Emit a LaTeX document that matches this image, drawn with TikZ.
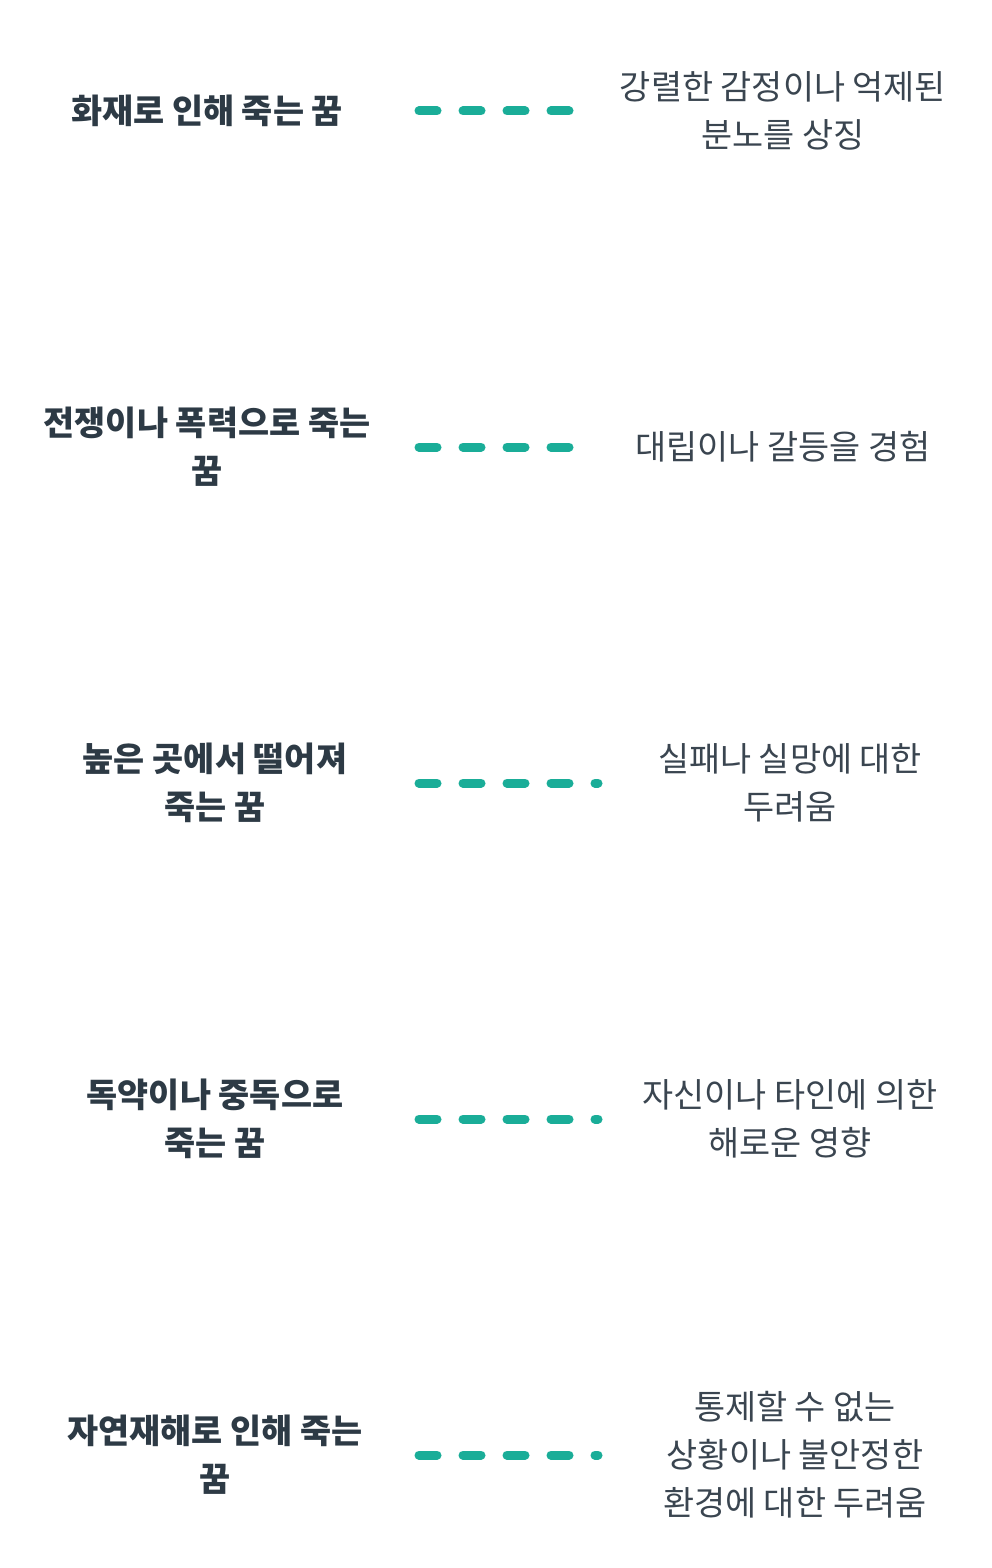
\documentclass[tikz,border=0pt]{standalone}
\usepackage{fontspec}
\setmainfont{Noto Sans CJK KR}
\definecolor{teal1}{HTML}{1AAD98}
\definecolor{txt}{HTML}{2D3A45}
\definecolor{txt2}{HTML}{3A4550}
\begin{document}
\begin{tikzpicture}[x=1pt,y=-1pt,
 lt/.style={font=\fontsize{33.8}{48}\selectfont\bfseries, text=txt, align=center, inner sep=0},
 rt/.style={font=\fontsize{33.8}{48}\selectfont, text=txt2, align=center, inner sep=0},
 dl/.style={teal1, line width=9pt, line cap=round, dash pattern=on 18pt off 26pt}]
\useasboundingbox (0,0) rectangle (992,1568);
\node[lt] (l1) at (207,111) {화재로 인해 죽는 꿈};
\node[lt] (l2) at (207,447) {전쟁이나 폭력으로 죽는\\꿈};
\node[lt] (l3) at (215,783) {높은 곳에서 떨어져\\죽는 꿈};
\node[lt] (l4) at (215,1119) {독약이나 중독으로\\죽는 꿈};
\node[lt] (l5) at (215,1455) {자연재해로 인해 죽는\\꿈};
\node[rt] (r1) at (783,111) {강렬한 감정이나 억제된\\분노를 상징};
\node[rt] (r2) at (783,447) {대립이나 갈등을 경험};
\node[rt] (r3) at (790,783) {실패나 실망에 대한\\두려움};
\node[rt] (r4) at (790,1119) {자신이나 타인에 의한\\해로운 영향};
\node[rt] (r5) at (795,1455) {통제할 수 없는\\상황이나 불안정한\\환경에 대한 두려움};
\coordinate (a1) at (419,111); \coordinate (b1) at (575,111);
\coordinate (a2) at (419,447); \coordinate (b2) at (575,447);
\coordinate (a3) at (419,783); \coordinate (b3) at (598,783);
\coordinate (a4) at (419,1119); \coordinate (b4) at (598,1119);
\coordinate (a5) at (419,1455); \coordinate (b5) at (598,1455);
\foreach \i in {1,...,5} \draw[dl] (a\i) -- (b\i);
\end{tikzpicture}
\end{document}
